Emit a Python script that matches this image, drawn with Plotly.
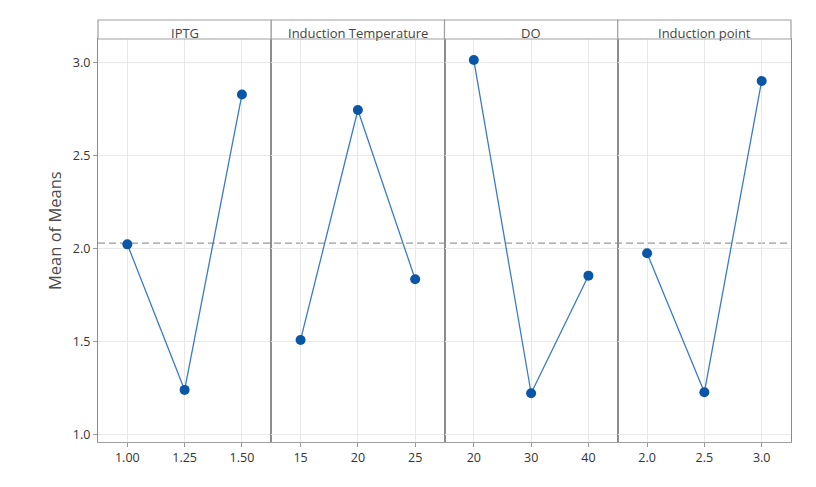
import plotly.graph_objects as go
from plotly.subplots import make_subplots

factors = ["IPTG", "Induction Temperature", "DO", "Induction point"]
levels = [[1.00, 1.25, 1.50], [15, 20, 25], [20, 30, 40], [2.0, 2.5, 3.0]]
level_labels = [["1.00", "1.25", "1.50"], ["15", "20", "25"], ["20", "30", "40"], ["2.0", "2.5", "3.0"]]
means = [
    [2.023, 1.242, 2.827],
    [1.510, 2.744, 1.836],
    [3.012, 1.224, 1.855],
    [1.975, 1.229, 2.900],
]
grand_mean = 2.03
y_ticks = [1.0, 1.5, 2.0, 2.5, 3.0]
y_tick_labels = ["1.0", "1.5", "2.0", "2.5", "3.0"]

W, H = 816, 487
ML, MR, MT, MB = 98, 25, 20, 45
plot_h = H - MT - MB
ydom_top = (H - MB - 39) / plot_h

fig = make_subplots(rows=1, cols=4, shared_yaxes=True, horizontal_spacing=0)

for i in range(4):
    fig.add_trace(go.Scatter(
        x=levels[i], y=means[i], mode="lines+markers",
        line=dict(color="#3A7BC6", width=1.3),
        marker=dict(color="#0A56A6", size=10),
        showlegend=False, hoverinfo="x+y"),
        row=1, col=i + 1)
    lv = levels[i]
    c = lv[1]
    half = (lv[-1] - lv[0]) / 2 * 1.512
    fig.update_xaxes(row=1, col=i + 1,
                     range=[c - half, c + half],
                     tickvals=lv, ticktext=level_labels[i],
                     showgrid=True, gridcolor="#E8E8E8", gridwidth=1,
                     zeroline=False, showline=True, linecolor="#A0A0A0", linewidth=1.2,
                     mirror=True, ticks="outside", ticklen=4, tickcolor="#999999",
                     tickfont=dict(size=12.5, color="#333333"))
    fig.update_yaxes(row=1, col=i + 1,
                     range=[0.9624, 3.125], domain=[0, ydom_top],
                     tickvals=y_ticks, ticktext=y_tick_labels,
                     showgrid=True, gridcolor="#E8E8E8", gridwidth=1,
                     zeroline=False, showline=True, linecolor="#8C8C8C", linewidth=1.2,
                     mirror=True,
                     ticks="outside" if i == 0 else "", ticklen=4, tickcolor="#999999",
                     showticklabels=(i == 0),
                     tickfont=dict(size=12.5, color="#333333"))

    # header strip
    fig.add_shape(type="rect", xref="paper", yref="paper",
                  x0=i / 4, x1=(i + 1) / 4, y0=ydom_top, y1=1,
                  line=dict(color="#A0A0A0", width=1.2), fillcolor="white", layer="above")
    fig.add_annotation(xref="paper", yref="paper", x=(i + 0.5) / 4,
                       y=(H - MB - 33) / plot_h, yanchor="middle", xanchor="center",
                       text=factors[i], showarrow=False,
                       font=dict(size=13, color="#444444", family="Open Sans"))

# grand mean dashed reference line
fig.add_shape(type="line", xref="paper", yref="y", x0=0, x1=1,
              y0=grand_mean, y1=grand_mean,
              line=dict(color="#9A9A9A", width=1.2, dash="7px,4px"), layer="below")

fig.add_annotation(xref="paper", yref="paper", x=(54 - ML) / (W - ML - MR),
                   y=(H - MB - 231) / plot_h, textangle=-90,
                   xanchor="center", yanchor="middle", showarrow=False,
                   text="Mean of Means", font=dict(size=16.5, color="#4A4A4A", family="Open Sans"))

fig.update_layout(
    width=W, height=H,
    margin=dict(l=ML, r=MR, t=MT, b=MB),
    paper_bgcolor="white", plot_bgcolor="white",
    font=dict(family="Open Sans", color="#333333"),
)

fig.write_html("out.html")
